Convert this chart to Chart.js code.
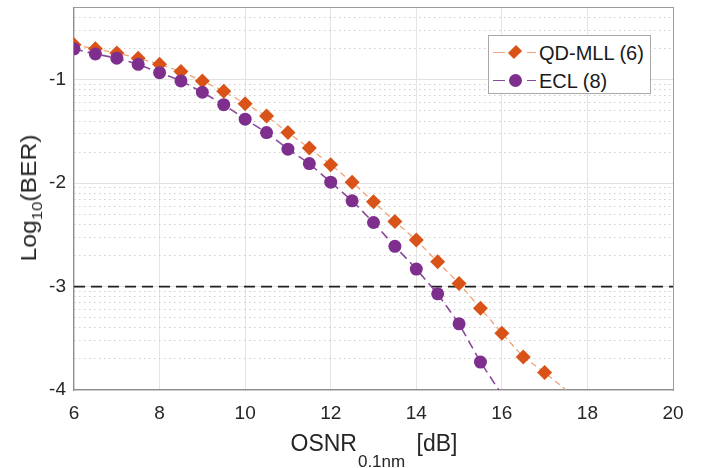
<!DOCTYPE html>
<html>
<head>
<meta charset="utf-8">
<script src="https://cdn.jsdelivr.net/npm/chart.js@4.4.0/dist/chart.umd.min.js"></script>
<style>
  html, body { margin: 0; padding: 0; background: #fff; }
  #wrap { position: relative; width: 702px; height: 468px; overflow: hidden; }
  #chart { position: absolute; left: 0; top: 0; }
  .ttl { position: absolute; font-family: 'Liberation Sans', Arial, sans-serif; color: #262626; white-space: nowrap; }
  #xTitle { left: 374px; top: 432px; font-size: 23px; line-height: 22px; transform: translateX(-50%); }
  #xTitle sub { font-size: 17px; vertical-align: baseline; position: relative; top: 16px; margin-left: 1px; margin-right: 5px; }
  #yTitle { left: 30px; top: 198px; font-size: 22px; line-height: 24px; transform: translate(-50%, -50%) rotate(-90deg) scale(1.12, 1); }
  #yTitle sub { font-size: 15px; vertical-align: baseline; position: relative; top: 6px; }
  #legend { position: absolute; left: 488px; top: 35px; width: 161px; height: 57px; border: 1px solid #a8a8a8; background: #fff;
            font-family: 'Liberation Sans', Arial, sans-serif; font-size: 20px; color: #1a1a1a; }
  .row { position: absolute; left: 0; height: 24px; line-height: 24px; width: 100%; }
  .row .txt { position: absolute; left: 50px; top: 0; }
  .row .ln { position: absolute; top: 11px; height: 0; border-top: 1.5px solid; }
  .row .mk { position: absolute; }
</style>
</head>
<body>
<div id="wrap">
  <canvas id="chart" width="702" height="468"></canvas>
  <div class="ttl" id="yTitle">Log<sub>10</sub>(BER)</div>
  <div class="ttl" id="xTitle">OSNR<sub>0.1nm</sub> [dB]</div>
  <div id="legend"></div>
</div>
<script>
/* ---------- Dados ---------- */
const xTicks = [6, 8, 10, 12, 14, 16, 18, 20];
const yTicks = [-4, -3, -2, -1];
const seriesNames = ['QD-MLL (6)', 'ECL (8)'];

const osnrQD = [6, 6.5, 7, 7.5, 8, 8.5, 9, 9.5, 10, 10.5, 11, 11.5, 12, 12.5, 13, 13.5, 14, 14.5, 15, 15.5, 16, 16.5, 17];
const berQD  = [-0.66, -0.70, -0.74, -0.79, -0.85, -0.92, -1.01, -1.11, -1.23, -1.35, -1.51, -1.66, -1.82, -1.99, -2.18, -2.37, -2.55, -2.76, -2.97, -3.21, -3.45, -3.68, -3.83];

const osnrECL = [6, 6.5, 7, 7.5, 8, 8.5, 9, 9.5, 10, 10.5, 11, 11.5, 12, 12.5, 13, 13.5, 14, 14.5, 15, 15.5];
const berECL  = [-0.70, -0.75, -0.79, -0.85, -0.93, -1.01, -1.12, -1.24, -1.38, -1.51, -1.67, -1.81, -1.99, -2.17, -2.38, -2.61, -2.83, -3.07, -3.36, -3.73];

// onde as curvas de ajuste saem pela borda inferior
const fitEndQD  = [17.5, -4];
const fitEndECL = [15.93, -4];

const thresholdX   = [6, 20];
const thresholdBER = -3;

const Y_MIN = -4, Y_MAX = -0.3;

/* ---------- Estilo ---------- */
const COL_QD      = '#D95319';
const COL_QD_LN   = '#EFA47A';
const COL_ECL     = '#7E2F8E';
const COL_ECL_LN  = '#8A4A9C';
const FONT        = "'Liberation Sans', Arial, sans-serif";

const pts = (xs, ys) => xs.map((x, i) => ({ x, y: ys[i] }));

// grade secundária: posições log dentro de cada década
function minorTicks(max) {
  const out = [];
  for (let d = yTicks[0]; d <= yTicks[yTicks.length - 1]; d++) {
    for (let k = 2; k <= 9; k++) {
      const v = d + Math.log10(k);
      if (v <= max) out.push(v);
    }
  }
  return out;
}

// tamanho fixo do eixo, sem a folga automática dos rótulos
const fixSize = (w, h) => s => {
  if (w !== null) s.width = w;
  if (h !== null) s.height = h;
  s.paddingTop = s.paddingBottom = s.paddingLeft = s.paddingRight = 0;
};

/* ---------- Legenda ---------- */
(function buildLegend() {
  const lg = document.getElementById('legend');
  const rows = [
    { name: seriesNames[0], ln: COL_QD_LN, mk: COL_QD, shape: 'dia', top: 5 },
    { name: seriesNames[1], ln: COL_ECL_LN, mk: COL_ECL, shape: 'dot', top: 33 },
  ];
  lg.innerHTML = rows.map(r => {
    const mk = r.shape === 'dia'
      ? `<i class="mk" style="left:21px;top:6px;width:10px;height:10px;background:${r.mk};transform:rotate(45deg) scale(0.85,1.15);"></i>`
      : `<i class="mk" style="left:20px;top:5px;width:13px;height:13px;border-radius:50%;background:${r.mk};"></i>`;
    return `<div class="row" style="top:${r.top}px">
      <i class="ln" style="left:4px;width:12px;border-color:${r.ln}"></i>
      ${mk}
      <i class="ln" style="left:38px;width:9px;border-color:${r.ln}"></i>
      <span class="txt">${r.name}</span></div>`;
  }).join('');
})();

/* ---------- Gráfico ---------- */
const ctx = document.getElementById('chart').getContext('2d');
new Chart(ctx, {
  type: 'scatter',
  data: {
    datasets: [
      {
        label: seriesNames[1], data: pts(osnrECL, berECL), showLine: false, order: 0,
        pointStyle: 'circle', pointRadius: 6.5, backgroundColor: COL_ECL, borderColor: COL_ECL, borderWidth: 0,
      },
      {
        label: seriesNames[0], data: pts(osnrQD, berQD), showLine: false, order: 1,
        pointStyle: 'rectRot', pointRadius: 7.5, backgroundColor: COL_QD, borderColor: COL_QD, borderWidth: 0,
      },
      {
        label: 'fit QD', data: pts(osnrQD, berQD).concat([{ x: fitEndQD[0], y: fitEndQD[1] }]),
        showLine: true, pointRadius: 0, order: 2,
        borderColor: COL_QD_LN, borderWidth: 1.3, borderDash: [6, 4],
      },
      {
        label: 'fit ECL', data: pts(osnrECL, berECL).concat([{ x: fitEndECL[0], y: fitEndECL[1] }]),
        showLine: true, pointRadius: 0, order: 2,
        borderColor: COL_ECL_LN, borderWidth: 1.6, borderDash: [9, 5],
      },
      {
        label: 'BER limite', data: thresholdX.map(x => ({ x, y: thresholdBER })),
        showLine: true, pointRadius: 0, order: 3,
        borderColor: '#1f1f1f', borderWidth: 1.6, borderDash: [11, 6],
      },
    ],
  },
  options: {
    responsive: false,
    animation: false,
    layout: { padding: 0 },
    plugins: { legend: { display: false }, tooltip: { enabled: false } },
    scales: {
      x: {
        type: 'linear', position: 'bottom', min: 6, max: 20,
        afterBuildTicks: s => { s.ticks = xTicks.map(v => ({ value: v })); },
        afterFit: fixSize(null, 78),
        grid: { color: '#e4e4e4', lineWidth: 1, drawTicks: false },
        border: { color: '#8c8c8c', width: 1.2 },
        ticks: { color: '#262626', font: { family: FONT, size: 19 }, padding: 12, maxRotation: 0, autoSkip: false },
      },
      yMinor: {
        type: 'linear', position: 'left', min: Y_MIN, max: Y_MAX,
        afterBuildTicks: s => { s.ticks = minorTicks(Y_MAX).map(v => ({ value: v })); },
        afterFit: fixSize(0, null),
        grid: { color: '#cfcfcf', lineWidth: 1, drawTicks: false },
        border: { display: false, dash: [1.5, 3.5] },
        ticks: { display: false },
      },
      y: {
        type: 'linear', position: 'left', min: Y_MIN, max: Y_MAX,
        afterBuildTicks: s => { s.ticks = yTicks.map(v => ({ value: v })); },
        afterFit: fixSize(74, null),
        grid: { drawTicks: false, color: '#e2e2e2', lineWidth: 1 },
        border: { color: '#8c8c8c', width: 1.2 },
        ticks: {
          color: '#262626', font: { family: FONT, size: 19 }, padding: 8, autoSkip: false,
          callback: v => String(v),
        },
      },
      x2: {
        type: 'linear', position: 'top', min: 6, max: 20,
        afterFit: fixSize(null, 7),
        grid: { display: false, drawTicks: false },
        border: { color: '#9c9c9c', width: 1 },
        ticks: { display: false },
      },
      y2: {
        type: 'linear', position: 'right', min: Y_MIN, max: Y_MAX,
        afterFit: fixSize(29, null),
        grid: { display: false, drawTicks: false },
        border: { color: '#9c9c9c', width: 1 },
        ticks: { display: false },
      },
    },
  },
});
</script>
</body>
</html>
